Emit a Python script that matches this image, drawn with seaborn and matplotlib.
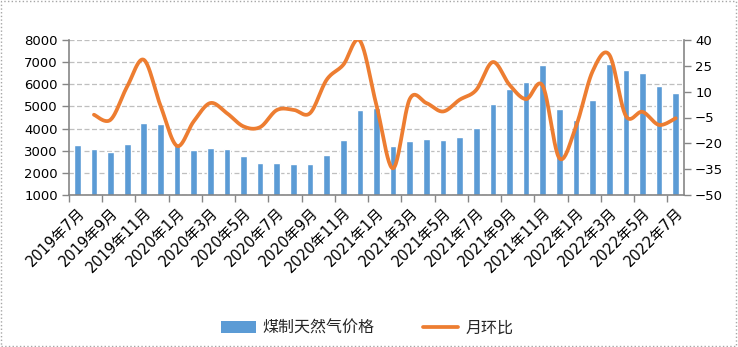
import numpy as np
import pandas as pd
import matplotlib
matplotlib.use("Agg")
import matplotlib.pyplot as plt
import seaborn as sns
from matplotlib.patches import Rectangle, Patch
from matplotlib.lines import Line2D

months = ["2019年7月", "2019年8月", "2019年9月", "2019年10月", "2019年11月", "2019年12月",
          "2020年1月", "2020年2月", "2020年3月", "2020年4月", "2020年5月", "2020年6月",
          "2020年7月", "2020年8月", "2020年9月", "2020年10月", "2020年11月", "2020年12月",
          "2021年1月", "2021年2月", "2021年3月", "2021年4月", "2021年5月", "2021年6月",
          "2021年7月", "2021年8月", "2021年9月", "2021年10月", "2021年11月", "2021年12月",
          "2022年1月", "2022年2月", "2022年3月", "2022年4月", "2022年5月", "2022年6月",
          "2022年7月"]
price = [3250, 3100, 2920, 3290, 4240, 4220, 3300, 3040, 3130, 3100, 2780, 2450,
         2450, 2420, 2380, 2790, 3470, 4850, 4950, 3220, 3420, 3510, 3470, 3600,
         4010, 5100, 5780, 6090, 6850, 4880, 4380, 5280, 6930, 6630, 6510, 5910, 5600]
# month-on-month ratio, starts at 2019年8月
mom = [-3.4, -6.3, 13, 28.5, 2, -21.5, -7.3, 3.4, -2.5, -10.2, -10.6, -0.7,
       -0.5, -2.5, 16.9, 25.6, 39.6, 2, -34.5, 5.7, 3.4, -1.5, 5.3, 11,
       27.2, 14, 5.7, 13.4, -28.6, -10.2, 21.8, 31.5, -4, -1.7, -9.3, -5.4]
left_ticks = [1000, 2000, 3000, 4000, 5000, 6000, 7000, 8000]
right_ticks = [-50, -35, -20, -5, 10, 25, 40]

bar_color = "#5B9BD5"
line_color = "#ED7D31"
axis_color = "#868686"

sns.set_theme(style="white")
plt.rcParams["font.family"] = ["DejaVu Sans", "Noto Sans CJK SC"]

fig = plt.figure(figsize=(7.38, 3.47), dpi=100)
ax = fig.add_axes([69 / 738, 1 - 195 / 347, (684 - 69) / 738, (195 - 40) / 347])

df = pd.DataFrame({"month": months, "price": price})
sns.barplot(data=df, x="month", y="price", order=months, color=bar_color,
            width=0.4, saturation=1, ax=ax, zorder=2)
ax.set_ylim(left_ticks[0], left_ticks[-1])
ax.set_yticks(left_ticks)
ax.set_xlim(-0.5, len(months) - 0.5)
ax.yaxis.grid(True, linestyle=(0, (4, 2)), color="#BFBFBF", linewidth=0.9, zorder=0)
ax.xaxis.grid(False)
ax.set_axisbelow(True)
ax.set_xlabel("")
ax.set_ylabel("")

# x labels every other month, boundary ticks every 2 categories
pos = np.arange(len(months))
ax.set_xticks(pos[::2])
ax.set_xticklabels(months[::2], rotation=45, ha="right", rotation_mode="anchor",
                   fontsize=10.5, color="black")
ax.set_xticks(np.arange(-0.5, len(months) - 1, 2), minor=True)
ax.tick_params(axis="x", which="major", length=0, pad=7)
ax.tick_params(axis="x", which="minor", length=5, color=axis_color, width=1, direction="out",
               bottom=True)
ax.tick_params(axis="y", length=5, color=axis_color, width=1, direction="out", left=True,
               labelsize=9.5, labelcolor="black", pad=3)

for s in ["left", "right", "bottom"]:
    ax.spines[s].set_color(axis_color)
    ax.spines[s].set_linewidth(1.2)
ax.spines["top"].set_visible(False)

# secondary axis with smoothed line
ax2 = ax.twinx()
ax2.set_ylim(right_ticks[0], right_ticks[-1])
ax2.set_yticks(right_ticks)
ax2.tick_params(axis="y", length=5, color=axis_color, width=1, direction="out", right=True,
                labelsize=9.5, labelcolor="black", pad=3)
for s in ["left", "right", "bottom", "top"]:
    ax2.spines[s].set_visible(False)
ax2.grid(False)

xs = pos[1:].astype(float)
ys = np.array(mom, dtype=float)
# Excel-style smoothing (Catmull-Rom as cubic Bezier)
px = np.concatenate([[xs[0]], xs, [xs[-1]]])
py = np.concatenate([[ys[0]], ys, [ys[-1]]])
cx, cy = [], []
t = np.linspace(0, 1, 25)
for i in range(1, len(px) - 2):
    p0 = np.array([px[i], py[i]])
    p3 = np.array([px[i + 1], py[i + 1]])
    p1 = p0 + (np.array([px[i + 1], py[i + 1]]) - np.array([px[i - 1], py[i - 1]])) / 6
    p2 = p3 - (np.array([px[i + 2], py[i + 2]]) - np.array([px[i], py[i]])) / 6
    b = ((1 - t) ** 3)[:, None] * p0 + (3 * (1 - t) ** 2 * t)[:, None] * p1 + \
        (3 * (1 - t) * t ** 2)[:, None] * p2 + (t ** 3)[:, None] * p3
    cx.extend(b[:, 0])
    cy.extend(b[:, 1])
sm = pd.DataFrame({"x": cx, "y": cy})
sns.lineplot(data=sm, x="x", y="y", sort=False, estimator=None, color=line_color,
             linewidth=2.7, ax=ax2, solid_capstyle="round")
ax2.set_xlabel("")
ax2.set_ylabel("")
ax2.set_xlim(-0.5, len(months) - 0.5)

# legend
handles = [Patch(facecolor=bar_color, edgecolor="none"),
           Line2D([0], [0], color=line_color, linewidth=2.7)]
fig.legend(handles, ["煤制天然气价格", "月环比"], loc="center", bbox_to_anchor=(0.497, 0.055),
           ncol=2, frameon=False, prop={"family": ["Noto Sans CJK SC"], "size": 11.5},
           handlelength=2.2, handleheight=0.8, columnspacing=3.0, handletextpad=0.45)

# dotted chart border
fig.patches.append(Rectangle((0.002, 0.003), 0.995, 0.994, transform=fig.transFigure,
                             fill=False, edgecolor="#A6A6A6", linestyle=":", linewidth=1))

fig.savefig("out.png", dpi=100)
